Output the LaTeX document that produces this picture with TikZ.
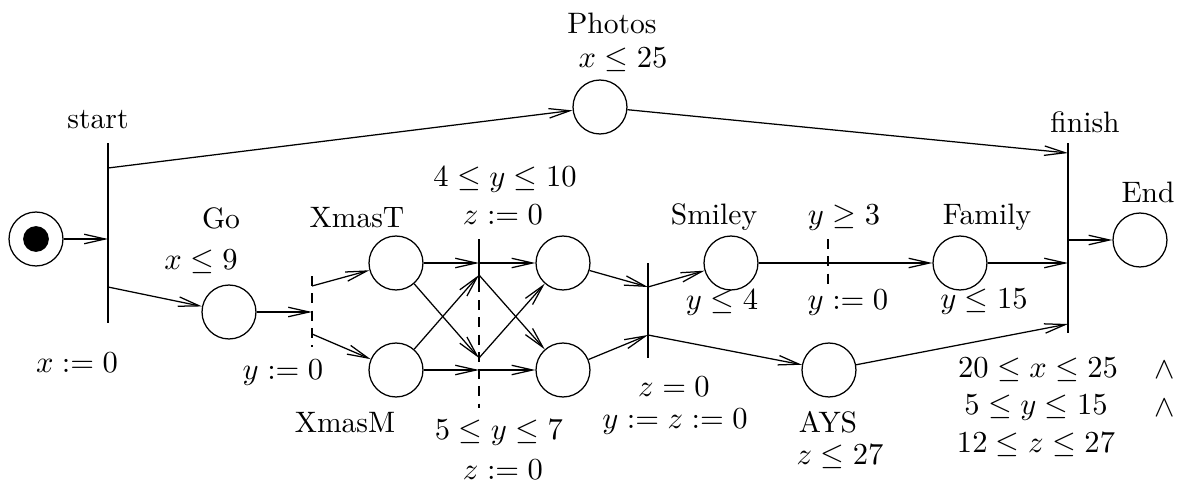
\documentclass[tikz,border=0pt]{standalone}
\usetikzlibrary{arrows.meta}
\begin{document}
\begin{tikzpicture}[x=0.0126cm,y=-0.0126cm,
  every node/.style={font=\fontsize{10.6pt}{12.7pt}\selectfont},
  loc/.style={draw,circle,minimum size=0.68cm,inner sep=0pt,line width=0.45pt},
  arr/.style={-{Straight Barb[length=7.5pt,width=3.4pt]},line width=0.45pt},
  bar/.style={line width=0.45pt},
  dbar/.style={line width=0.45pt,dash pattern=on 3.6pt off 2.6pt},
  lbl/.style={inner sep=0pt}]
  \useasboundingbox (0,0) rectangle (1179,485);
  % locations
  \node[loc] (init) at (36,239) {};
  \node[circle,fill,minimum size=0.325cm,inner sep=0pt] (initdot) at (init) {};
  \node[loc] (photos) at (600,107) {};
  \node[loc] (go) at (229,312) {};
  \node[loc] (xt) at (396,263) {};
  \node[loc] (xm) at (396,370) {};
  \node[loc] (s1) at (563,263) {};
  \node[loc] (s2) at (563,370) {};
  \node[loc] (smiley) at (731,263) {};
  \node[loc] (ays) at (829,370) {};
  \node[loc] (family) at (960,263) {};
  \node[loc] (endst) at (1140,240) {};
  % transition bars
  \draw[bar] (108,143) -- (108,323);
  \coordinate (st-in) at (108,239);
  \coordinate (st-a) at (108,168);
  \coordinate (st-b) at (108,287);
  \draw[dbar] (312,276) -- (312,347);
  \coordinate (d1-in) at (312,312);
  \coordinate (d1-a) at (312,286);
  \coordinate (d1-b) at (312,334);
  \draw[bar] (479,239) -- (479,292);
  \coordinate (t1-a) at (479,263);
  \coordinate (t1-b) at (479,275);
  \draw[dbar] (479,300) -- (479,408);
  \coordinate (t2-a) at (479,358);
  \coordinate (t2-b) at (479,370);
  \draw[bar] (648,263) -- (648,358);
  \coordinate (t3-a) at (648,287);
  \coordinate (t3-b) at (648,335);
  \draw[dbar] (828,239) -- (828,289);
  \draw[bar] (1068,143) -- (1068,333);
  \coordinate (fi-a) at (1068,153);
  \coordinate (fi-b) at (1068,263);
  \coordinate (fi-c) at (1068,324);
  \coordinate (fi-out) at (1068,240);
  % edges
  \draw[arr] (init) -- (st-in);
  \draw[arr] (st-a) -- (photos);
  \draw[arr] (st-b) -- (go);
  \draw[arr] (go) -- (d1-in);
  \draw[arr] (d1-a) -- (xt);
  \draw[arr] (d1-b) -- (xm);
  \draw[arr] (xt) -- (t1-a);
  \draw[arr] (xm) -- (t1-b);
  \draw[arr] (xt) -- (t2-a);
  \draw[arr] (xm) -- (t2-b);
  \draw[arr] (t1-a) -- (s1);
  \draw[arr] (t1-b) -- (s2);
  \draw[arr] (t2-a) -- (s1);
  \draw[arr] (t2-b) -- (s2);
  \draw[arr] (s1) -- (t3-a);
  \draw[arr] (s2) -- (t3-b);
  \draw[arr] (t3-a) -- (smiley);
  \draw[arr] (t3-b) -- (ays);
  \draw[arr] (smiley) -- (family);
  \draw[arr] (family) -- (fi-b);
  \draw[arr] (photos) -- (fi-a);
  \draw[arr] (ays) -- (fi-c);
  \draw[arr] (fi-out) -- (endst);
  % labels
  \node[lbl] (photos-n) at (612,23) {Photos};
  \node[lbl] (photos-i) at (623,60) {$x \le 25$};
  \node[lbl] (start-n) at (98,120) {start};
  \node[lbl] (start-r) at (77,363) {$x := 0$};
  \node[lbl] (finish-n) at (1085,122) {finish};
  \node[lbl] (end-n) at (1148,192) {End};
  \node[lbl] (go-n) at (221,218) {Go};
  \node[lbl] (go-i) at (201,262) {$x \le 9$};
  \node[lbl] (d1-r) at (283,373) {$y := 0$};
  \node[lbl] (xt-n) at (357,218) {XmasT};
  \node[lbl] (xm-n) at (345,423) {XmasM};
  \node[lbl] (t1-g) at (505,180) {$4 \le y \le 10$};
  \node[lbl] (t1-r) at (503,215) {$z := 0$};
  \node[lbl] (t2-g) at (499,433) {$5 \le y \le 7$};
  \node[lbl] (t2-r) at (503,470) {$z := 0$};
  \node[lbl] (t3-g) at (674,387) {$z = 0$};
  \node[lbl] (t3-r) at (675,422) {$y := z := 0$};
  \node[lbl] (smiley-n) at (714,217) {Smiley};
  \node[lbl] (smiley-i) at (722,303) {$y \le 4$};
  \node[lbl] (d2-g) at (844,218) {$y \ge 3$};
  \node[lbl] (d2-r) at (848,303) {$y := 0$};
  \node[lbl] (family-n) at (987,217) {Family};
  \node[lbl] (family-i) at (984,302) {$y \le 15$};
  \node[lbl] (ays-n) at (828,422) {AYS};
  \node[lbl] (ays-i) at (840,457) {$z \le 27$};
  \node[lbl] (fi-g1) at (1038,370) {$20 \le x \le 25$};
  \node[lbl] (fi-g2) at (1036,408) {$5 \le y \le 15$};
  \node[lbl] (fi-g3) at (1036,445) {$12 \le z \le 27$};
  \node[lbl] (fi-and1) at (1165,370) {$\wedge$};
  \node[lbl] (fi-and2) at (1165,408) {$\wedge$};
\end{tikzpicture}
\end{document}
